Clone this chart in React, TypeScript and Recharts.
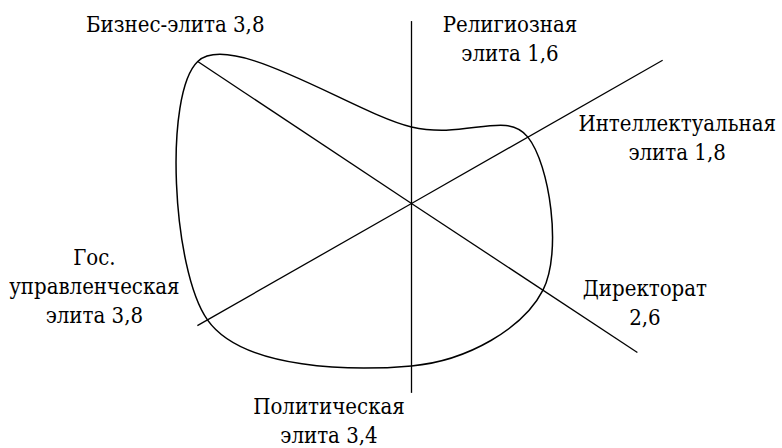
import { RadarChart, PolarAngleAxis, PolarRadiusAxis, Radar } from 'recharts';

// six elite groups, clockwise from the top
const elites = [
  'Религиозная\nэлита',
  'Интеллектуальная\nэлита',
  'Директорат\n',
  'Политическая\nэлита',
  'Гос.\nуправленческая\nэлита',
  'Бизнес-элита',
];
const scores = [1.6, 1.8, 2.6, 3.4, 3.8, 3.8];
// direction of each axis, degrees clockwise from the top
const axisAngles = [0, 60.3, 123.4, 180, 240.3, 303.6];
// where the outline crosses each axis, radius units 0..10
const contourReach = [2.64, 4.62, 5.43, 5.6, 8.1, 8.85];
// where each axis line ends
const axisReach = [6.29, 9.97, 9.33, 6.53, 8.5, 8.85];

const rows = elites.map((name, i) => ({
  name,
  score: scores[i],
  angle: axisAngles[i],
  contour: contourReach[i],
  axisEnd: axisReach[i],
}));

// first-line baseline of each label, offset from the end of its axis
const labelOffsets: [number, number][] = [
  [98.5, 11],
  [14.5, 71],
  [7.5, -56],
  [-82.5, 21],
  [-103, -61],
  [-22.5, -29],
];

const FONT = "'DejaVu Serif Condensed', 'DejaVu Serif', serif";

type Pt = { x: number; y: number; cx: number; cy: number; payload: any };

function closedSpline(pts: Pt[]) {
  const n = pts.length;
  let d = `M${pts[0].x},${pts[0].y}`;
  for (let i = 0; i < n; i++) {
    const p0 = pts[(i - 1 + n) % n];
    const p1 = pts[i];
    const p2 = pts[(i + 1) % n];
    const p3 = pts[(i + 2) % n];
    const c1x = p1.x + (p2.x - p0.x) / 6;
    const c1y = p1.y + (p2.y - p0.y) / 6;
    const c2x = p2.x - (p3.x - p1.x) / 6;
    const c2y = p2.y - (p3.y - p1.y) / 6;
    d += ` C${c1x},${c1y} ${c2x},${c2y} ${p2.x},${p2.y}`;
  }
  return d + ' Z';
}

function Contour(props: any) {
  const points: Pt[] = props.points || [];
  if (points.length < 3) return null;
  return <path d={closedSpline(points)} fill="none" stroke="#000" strokeWidth={1.5} />;
}

function AxesWithLabels(props: any) {
  const points: Pt[] = props.points || [];
  return (
    <g>
      {points.map((p, i) => (
        <line key={'l' + i} x1={p.cx} y1={p.cy} x2={p.x} y2={p.y} stroke="#000" strokeWidth={1.3} />
      ))}
      {points.map((p, i) => {
        const text = `${p.payload.name} ${p.payload.score.toFixed(1).replace('.', ',')}`;
        const lines = text.split('\n').map((s) => s.trim());
        const [dx, dy] = labelOffsets[i];
        return (
          <text
            key={'t' + i}
            x={p.x + dx}
            y={p.y + dy}
            textAnchor="middle"
            style={{ fontFamily: FONT, fontSize: 22 }}
            fill="#000"
          >
            {lines.map((line, j) => (
              <tspan key={j} x={p.x + dx} dy={j === 0 ? 0 : 29}>
                {line}
              </tspan>
            ))}
          </text>
        );
      })}
    </g>
  );
}

export default function App() {
  return (
    <div style={{ position: 'absolute', left: 0, top: 0, background: '#fff' }}>
      <RadarChart
        width={782}
        height={448}
        data={rows}
        cx={411.5}
        cy={203.5}
        outerRadius={290}
        startAngle={90}
        endAngle={-270}
        margin={{ top: 0, right: 0, bottom: 0, left: 0 }}
      >
        <PolarAngleAxis dataKey="angle" type="number" domain={[0, 360]} tick={false} axisLine={false} />
        <PolarRadiusAxis domain={[0, 10]} tick={false} axisLine={false} />
        <Radar dataKey="axisEnd" shape={AxesWithLabels} isAnimationActive={false} />
        <Radar dataKey="contour" shape={Contour} isAnimationActive={false} />
      </RadarChart>
    </div>
  );
}
